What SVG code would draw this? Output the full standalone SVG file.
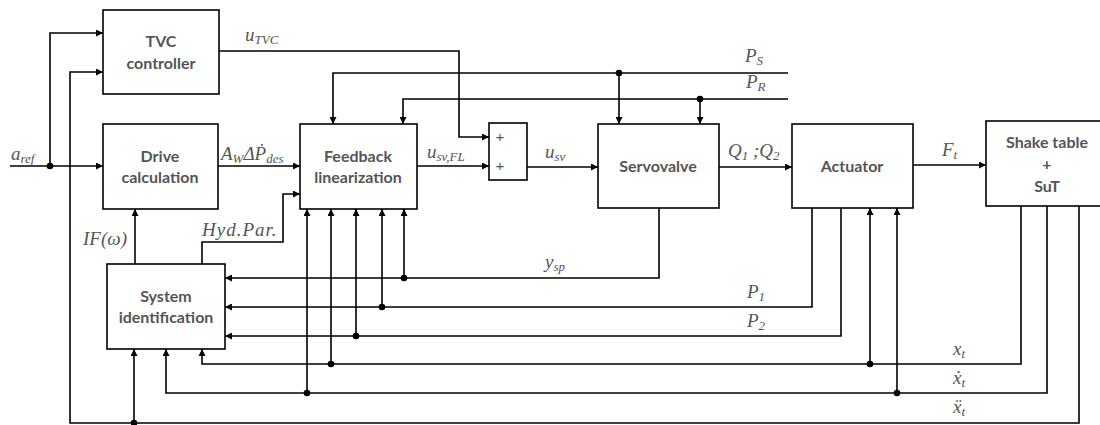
<svg xmlns="http://www.w3.org/2000/svg" width="1100" height="425" viewBox="0 0 1100 425">
<style>
.box{fill:#fff;stroke:#000;stroke-width:1.6}
.lbl{font-family:Lato,"Open Sans","Liberation Sans",sans-serif;font-weight:bold;font-size:16px;fill:#555;text-anchor:middle}
.m{font-family:"Liberation Serif","DejaVu Serif",serif;font-style:italic;font-size:19px;fill:#555}
.s{font-size:13px}
.w{fill:none;stroke:#000;stroke-width:1.6}
.a{marker-end:url(#arr)}
.dot{fill:#000}
.pl{font-family:"Liberation Sans",sans-serif;font-size:15px;fill:#555;text-anchor:middle}
</style>
<defs>
<marker id="arr" viewBox="0 0 10 10" refX="10" refY="5" markerWidth="7" markerHeight="7" markerUnits="userSpaceOnUse" orient="auto">
<path d="M0,0 L10,5 L0,10 z" fill="#000"/>
</marker>
</defs>
<rect width="1100" height="425" fill="#fff"/>
<g id="connectors">
<path class="w a" d="M10,166 H103"/>
<path class="w a" d="M50,166 V33 H103"/>
<path class="w a" d="M1079,206 V423 H70 V72 H103"/>
<path class="w a" d="M134,423 V349"/>
<path class="w a" d="M219,51 H459 V137 H489"/>
<path class="w a" d="M218,166 H300"/>
<path class="w a" d="M788,73 H333 V124"/>
<path class="w a" d="M619,73 V124"/>
<path class="w a" d="M788,99 H403 V124"/>
<path class="w a" d="M700,99 V124"/>
<path class="w a" d="M417,166 H489"/>
<path class="w a" d="M527,167 H598"/>
<path class="w a" d="M719,167 H792"/>
<path class="w a" d="M913,165 H986"/>
<path class="w a" d="M135,264 V209"/>
<path class="w a" d="M202,264 V242 H283 V194 H300"/>
<path class="w a" d="M659,208 V278 H225"/>
<path class="w a" d="M404,278 V209"/>
<path class="w a" d="M812,208 V307 H225"/>
<path class="w a" d="M382,307 V209"/>
<path class="w a" d="M841,208 V336 H225"/>
<path class="w a" d="M356,336 V209"/>
<path class="w a" d="M1021,206 V364 H202 V349"/>
<path class="w a" d="M870,364 V208"/>
<path class="w a" d="M331,364 V209"/>
<path class="w a" d="M1047,206 V393 H166 V349"/>
<path class="w a" d="M897,393 V208"/>
<path class="w a" d="M307,393 V209"/>
<circle class="dot" cx="50" cy="166" r="3.3"/>
<circle class="dot" cx="134" cy="423" r="3.3"/>
<circle class="dot" cx="619" cy="73" r="3.3"/>
<circle class="dot" cx="700" cy="99" r="3.3"/>
<circle class="dot" cx="404" cy="278" r="3.3"/>
<circle class="dot" cx="382" cy="307" r="3.3"/>
<circle class="dot" cx="356" cy="336" r="3.3"/>
<circle class="dot" cx="331" cy="364" r="3.3"/>
<circle class="dot" cx="870" cy="364" r="3.3"/>
<circle class="dot" cx="307" cy="393" r="3.3"/>
<circle class="dot" cx="897" cy="393" r="3.3"/>
<text class="m" x="11" y="160">a<tspan class="s" dy="3">ref</tspan></text>
<text class="m" x="245" y="41">u<tspan class="s" dy="3">TVC</tspan></text>
<text class="m" x="221" y="160">A<tspan class="s" dy="3">W</tspan><tspan dy="-3">ΔṖ</tspan><tspan class="s" dy="3">des</tspan></text>
<text class="m" x="427" y="158">u<tspan class="s" dy="3">sv,FL</tspan></text>
<text class="m" x="545" y="158">u<tspan class="s" dy="3">sv</tspan></text>
<text class="m" x="745" y="62">P<tspan class="s" dy="3">S</tspan></text>
<text class="m" x="746" y="88">P<tspan class="s" dy="3">R</tspan></text>
<text class="m" x="728" y="157">Q<tspan class="s" dy="3">1</tspan><tspan dy="-3"> ;Q</tspan><tspan class="s" dy="3">2</tspan></text>
<text class="m" x="942" y="156">F<tspan class="s" dy="3">t</tspan></text>
<text class="m" x="83" y="245">IF(ω)</text>
<text class="m" x="202" y="236" letter-spacing="1">Hyd.Par.</text>
<text class="m" x="545" y="268">y<tspan class="s" dy="3">sp</tspan></text>
<text class="m" x="747" y="298">P<tspan class="s" dy="3">1</tspan></text>
<text class="m" x="747" y="327">P<tspan class="s" dy="3">2</tspan></text>
<text class="m" x="953" y="355">x<tspan class="s" dy="3">t</tspan></text>
<text class="m" x="953" y="384">ẋ<tspan class="s" dy="3">t</tspan></text>
<text class="m" x="953" y="413">ẍ<tspan class="s" dy="3">t</tspan></text>
</g>
<g id="tvc">
<rect class="box" x="103" y="10" width="116" height="84"/>
<text class="lbl" x="161" y="47">TVC</text>
<text class="lbl" x="161" y="69">controller</text>
</g>
<g id="drive">
<rect class="box" x="103" y="124" width="115" height="85"/>
<text class="lbl" x="160" y="162">Drive</text>
<text class="lbl" x="160" y="183">calculation</text>
</g>
<g id="fl">
<rect class="box" x="300" y="124" width="117" height="85"/>
<text class="lbl" x="358" y="162">Feedback</text>
<text class="lbl" x="358" y="183">linearization</text>
</g>
<g id="sum">
<rect class="box" x="489" y="123" width="38" height="57"/>
<text class="pl" x="500" y="142">+</text>
<text class="pl" x="500" y="171">+</text>
</g>
<g id="servovalve">
<rect class="box" x="598" y="124" width="121" height="84"/>
<text class="lbl" x="658" y="172">Servovalve</text>
</g>
<g id="actuator">
<rect class="box" x="792" y="124" width="121" height="84"/>
<text class="lbl" x="852" y="172">Actuator</text>
</g>
<g id="shaketable">
<rect class="box" x="986" y="121" width="122" height="85"/>
<text class="lbl" x="1047" y="148">Shake table</text>
<text class="lbl" x="1047" y="170">+</text>
<text class="lbl" x="1047" y="192">SuT</text>
</g>
<g id="sysid">
<rect class="box" x="107" y="264" width="118" height="85"/>
<text class="lbl" x="166" y="302">System</text>
<text class="lbl" x="166" y="323">identification</text>
</g>
</svg>
